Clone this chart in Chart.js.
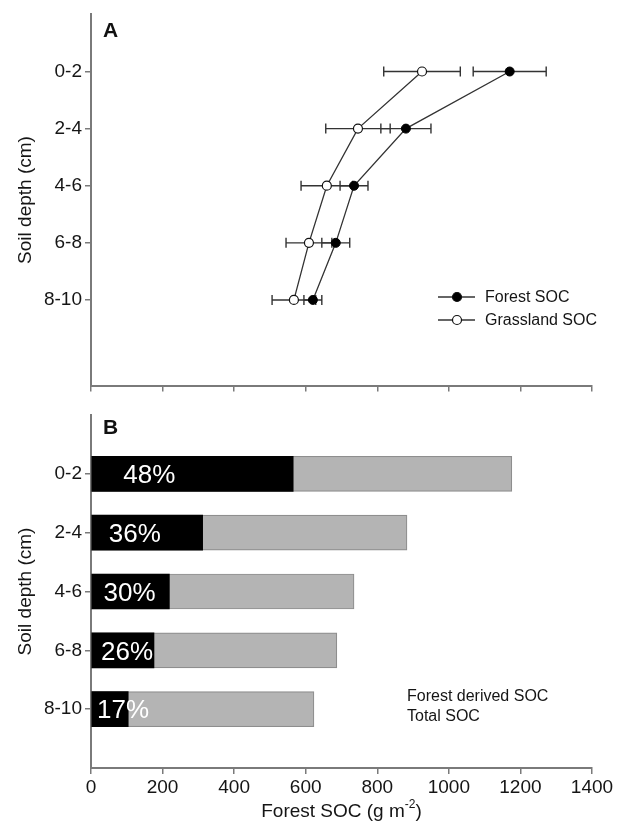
<!DOCTYPE html>
<html><head><meta charset="utf-8">
<script src="https://cdn.jsdelivr.net/npm/chart.js@4.4.1/dist/chart.umd.min.js"></script>
<style>
html,body{margin:0;padding:0;background:#fff;}
#wrap{position:relative;width:625px;height:827px;overflow:hidden;}
#c1{position:absolute;left:0;top:0;}
#c2{position:absolute;left:0;top:400px;}
</style></head><body>
<div id="wrap">
<canvas id="c1" width="625" height="400"></canvas>
<canvas id="c2" width="625" height="427"></canvas>
</div>
<script>
const depthLabels = ['0-2','2-4','4-6','6-8','8-10'];
const depthPos = [1,2,3,4,5];
const forestSOC = [1170, 880, 735, 684, 620];
const forestErr = [102, 70, 39, 39, 25];
const grassSOC = [925, 746, 659, 609, 567];
const grassErr = [107, 90, 72, 64, 61];
const forestDerivedSOC = [565, 312, 219, 176, 104];
const totalSOC = [1176, 883, 735, 687, 623];
const pctLabels = ['48%','36%','30%','26%','17%'];
const xMax = 1400, xStep = 200;

const FONT = "'Liberation Sans', Arial, Helvetica, sans-serif";
const AXIS = '#7a7a7a';
const TXT = '#151515';
Chart.defaults.font.family = FONT;
Chart.defaults.color = TXT;
Chart.defaults.animation = false;

function yScale(max) {
  return {
    type:'linear', reverse:true, min:0, max:max, offset:false,
    afterBuildTicks: s => { s.ticks = depthPos.map(v=>({value:v})); },
    afterFit: s => { s.width = 91; },
    ticks:{ autoSkip:false, callback: v => { const k = depthPos.indexOf(v); return k>=0 ? depthLabels[k] : ''; }, font:{size:19}, color:TXT, padding:3 },
    grid:{ offset:false, drawOnChartArea:false, drawTicks:true, tickLength:6, color:AXIS, lineWidth:1.5 },
    border:{ display:true, color:AXIS, width:2 },
    title:{ display:true, text:'Soil depth (cm)', font:{size:19}, color:TXT, padding:{top:14,bottom:0} }
  };
}
function xScale(showLabels, h) {
  return {
    type:'linear', min:0, max:xMax,
    ticks:{ stepSize:xStep, display:showLabels, font:{size:19}, color:TXT, padding:2, maxRotation:0, callback: v => String(v) },
    grid:{ drawOnChartArea:false, drawTicks:true, tickLength:6, color:AXIS, lineWidth:1.5 },
    border:{ display:true, color:AXIS, width:2 },
    afterFit: s => { s.height = h; }
  };
}
function panelLabel(txt, y) {
  return { id:'panel'+txt, afterDraw(chart){ const c=chart.ctx; c.save(); c.font="bold 21px "+FONT; c.fillStyle='#111'; c.textAlign='left'; c.textBaseline='middle'; c.fillText(txt, chart.chartArea.left+12, y); c.restore(); } };
}

const errorBars = {
  id:'errorBars',
  beforeDatasetsDraw(chart){
    const c = chart.ctx, xs = chart.scales.x, ys = chart.scales.y;
    c.save(); c.strokeStyle = '#333'; c.lineWidth = 1.4;
    [[forestSOC, forestErr],[grassSOC, grassErr]].forEach(([vals, errs]) => {
      vals.forEach((v,i) => {
        const y = ys.getPixelForValue(depthPos[i]);
        const xl = xs.getPixelForValue(v-errs[i]), xr = xs.getPixelForValue(v+errs[i]);
        c.beginPath(); c.moveTo(xl,y); c.lineTo(xr,y);
        c.moveTo(xl,y-5); c.lineTo(xl,y+5); c.moveTo(xr,y-5); c.lineTo(xr,y+5);
        c.stroke();
      });
    });
    c.restore();
  }
};
const topLegend = {
  id:'topLegend',
  afterDraw(chart){
    const c = chart.ctx; c.save();
    const items = [['Forest SOC','#000'],['Grassland SOC','#fff']];
    items.forEach(([t,fill],k) => {
      const y = 297 + k*23;
      c.strokeStyle='#333'; c.lineWidth=1.3;
      c.beginPath(); c.moveTo(438,y); c.lineTo(475,y); c.stroke();
      c.beginPath(); c.arc(457,y,4.5,0,Math.PI*2); c.fillStyle=fill; c.fill(); c.strokeStyle='#111'; c.lineWidth=1.2; c.stroke();
      c.fillStyle=TXT; c.font='16px '+FONT; c.textAlign='left'; c.textBaseline='middle';
      c.fillText(t, 485, y+1);
    });
    c.restore();
  }
};

new Chart(document.getElementById('c1'), {
  type:'scatter',
  data:{ datasets:[
    { label:'Forest SOC', data: forestSOC.map((v,i)=>({x:v,y:depthPos[i]})), showLine:true, borderColor:'#333', borderWidth:1.3,
      pointRadius:4.5, pointBackgroundColor:'#000', pointBorderColor:'#000', pointBorderWidth:1 },
    { label:'Grassland SOC', data: grassSOC.map((v,i)=>({x:v,y:depthPos[i]})), showLine:true, borderColor:'#333', borderWidth:1.3,
      pointRadius:4.5, pointBackgroundColor:'#fff', pointBorderColor:'#111', pointBorderWidth:1.2 }
  ]},
  options:{
    responsive:false, animation:false,
    layout:{ padding:{ top:8, right:33, left:0, bottom:0 } },
    scales:{ x: xScale(false, 14), y: yScale(6.5) },
    plugins:{ legend:{display:false}, tooltip:{enabled:false} }
  },
  plugins:[errorBars, topLegend, panelLabel('A', 31)]
});

const pctPlugin = {
  id:'pct',
  afterDatasetsDraw(chart){
    const c = chart.ctx, xs = chart.scales.x, ys = chart.scales.y, left = chart.chartArea.left;
    c.save(); c.fillStyle='#fff'; c.font='26px '+FONT; c.textAlign='left'; c.textBaseline='middle';
    pctLabels.forEach((t,i) => {
      const end = xs.getPixelForValue(forestDerivedSOC[i]);
      const x0 = left + Math.max(6, 0.16*(end-left));
      c.fillText(t, x0, ys.getPixelForValue(depthPos[i]) + 2);
    });
    c.restore();
  }
};
const bottomText = {
  id:'bottomText',
  afterDraw(chart){
    const c = chart.ctx; c.save();
    c.fillStyle=TXT; c.font='16px '+FONT; c.textAlign='left'; c.textBaseline='middle';
    c.fillText('Forest derived SOC', 407, 297);
    c.fillText('Total SOC', 407, 317);
    const a = 'Forest SOC (g m', sup = '-2', b = ')';
    c.font='19px '+FONT; const wa = c.measureText(a).width, wb = c.measureText(b).width;
    c.font='12px '+FONT; const ws = c.measureText(sup).width;
    const cx = (chart.chartArea.left + chart.chartArea.right)/2;
    let x = cx - (wa+ws+wb)/2; const y = 412;
    c.font='19px '+FONT; c.fillText(a, x, y); x += wa;
    c.font='12px '+FONT; c.fillText(sup, x, y-7); x += ws;
    c.font='19px '+FONT; c.fillText(b, x, y);
    c.restore();
  }
};

new Chart(document.getElementById('c2'), {
  type:'bar',
  data:{ datasets:[
    { label:'Forest derived SOC', data: forestDerivedSOC.map((v,i)=>({x:v,y:depthPos[i]})), backgroundColor:'#000', borderWidth:0, barThickness:35, grouped:false },
    { label:'Total SOC', data: totalSOC.map((v,i)=>({x:v,y:depthPos[i]})), backgroundColor:'#b4b4b4', borderColor:'#8e8e8e', borderWidth:1.2, barThickness:35, grouped:false }
  ]},
  options:{
    indexAxis:'y', responsive:false, animation:false,
    layout:{ padding:{ top:15, right:33, left:0, bottom:0 } },
    scales:{ x: xScale(true, 59), y: yScale(6) },
    plugins:{ legend:{display:false}, tooltip:{enabled:false} }
  },
  plugins:[pctPlugin, bottomText, panelLabel('B', 28)]
});
</script>
</body></html>
